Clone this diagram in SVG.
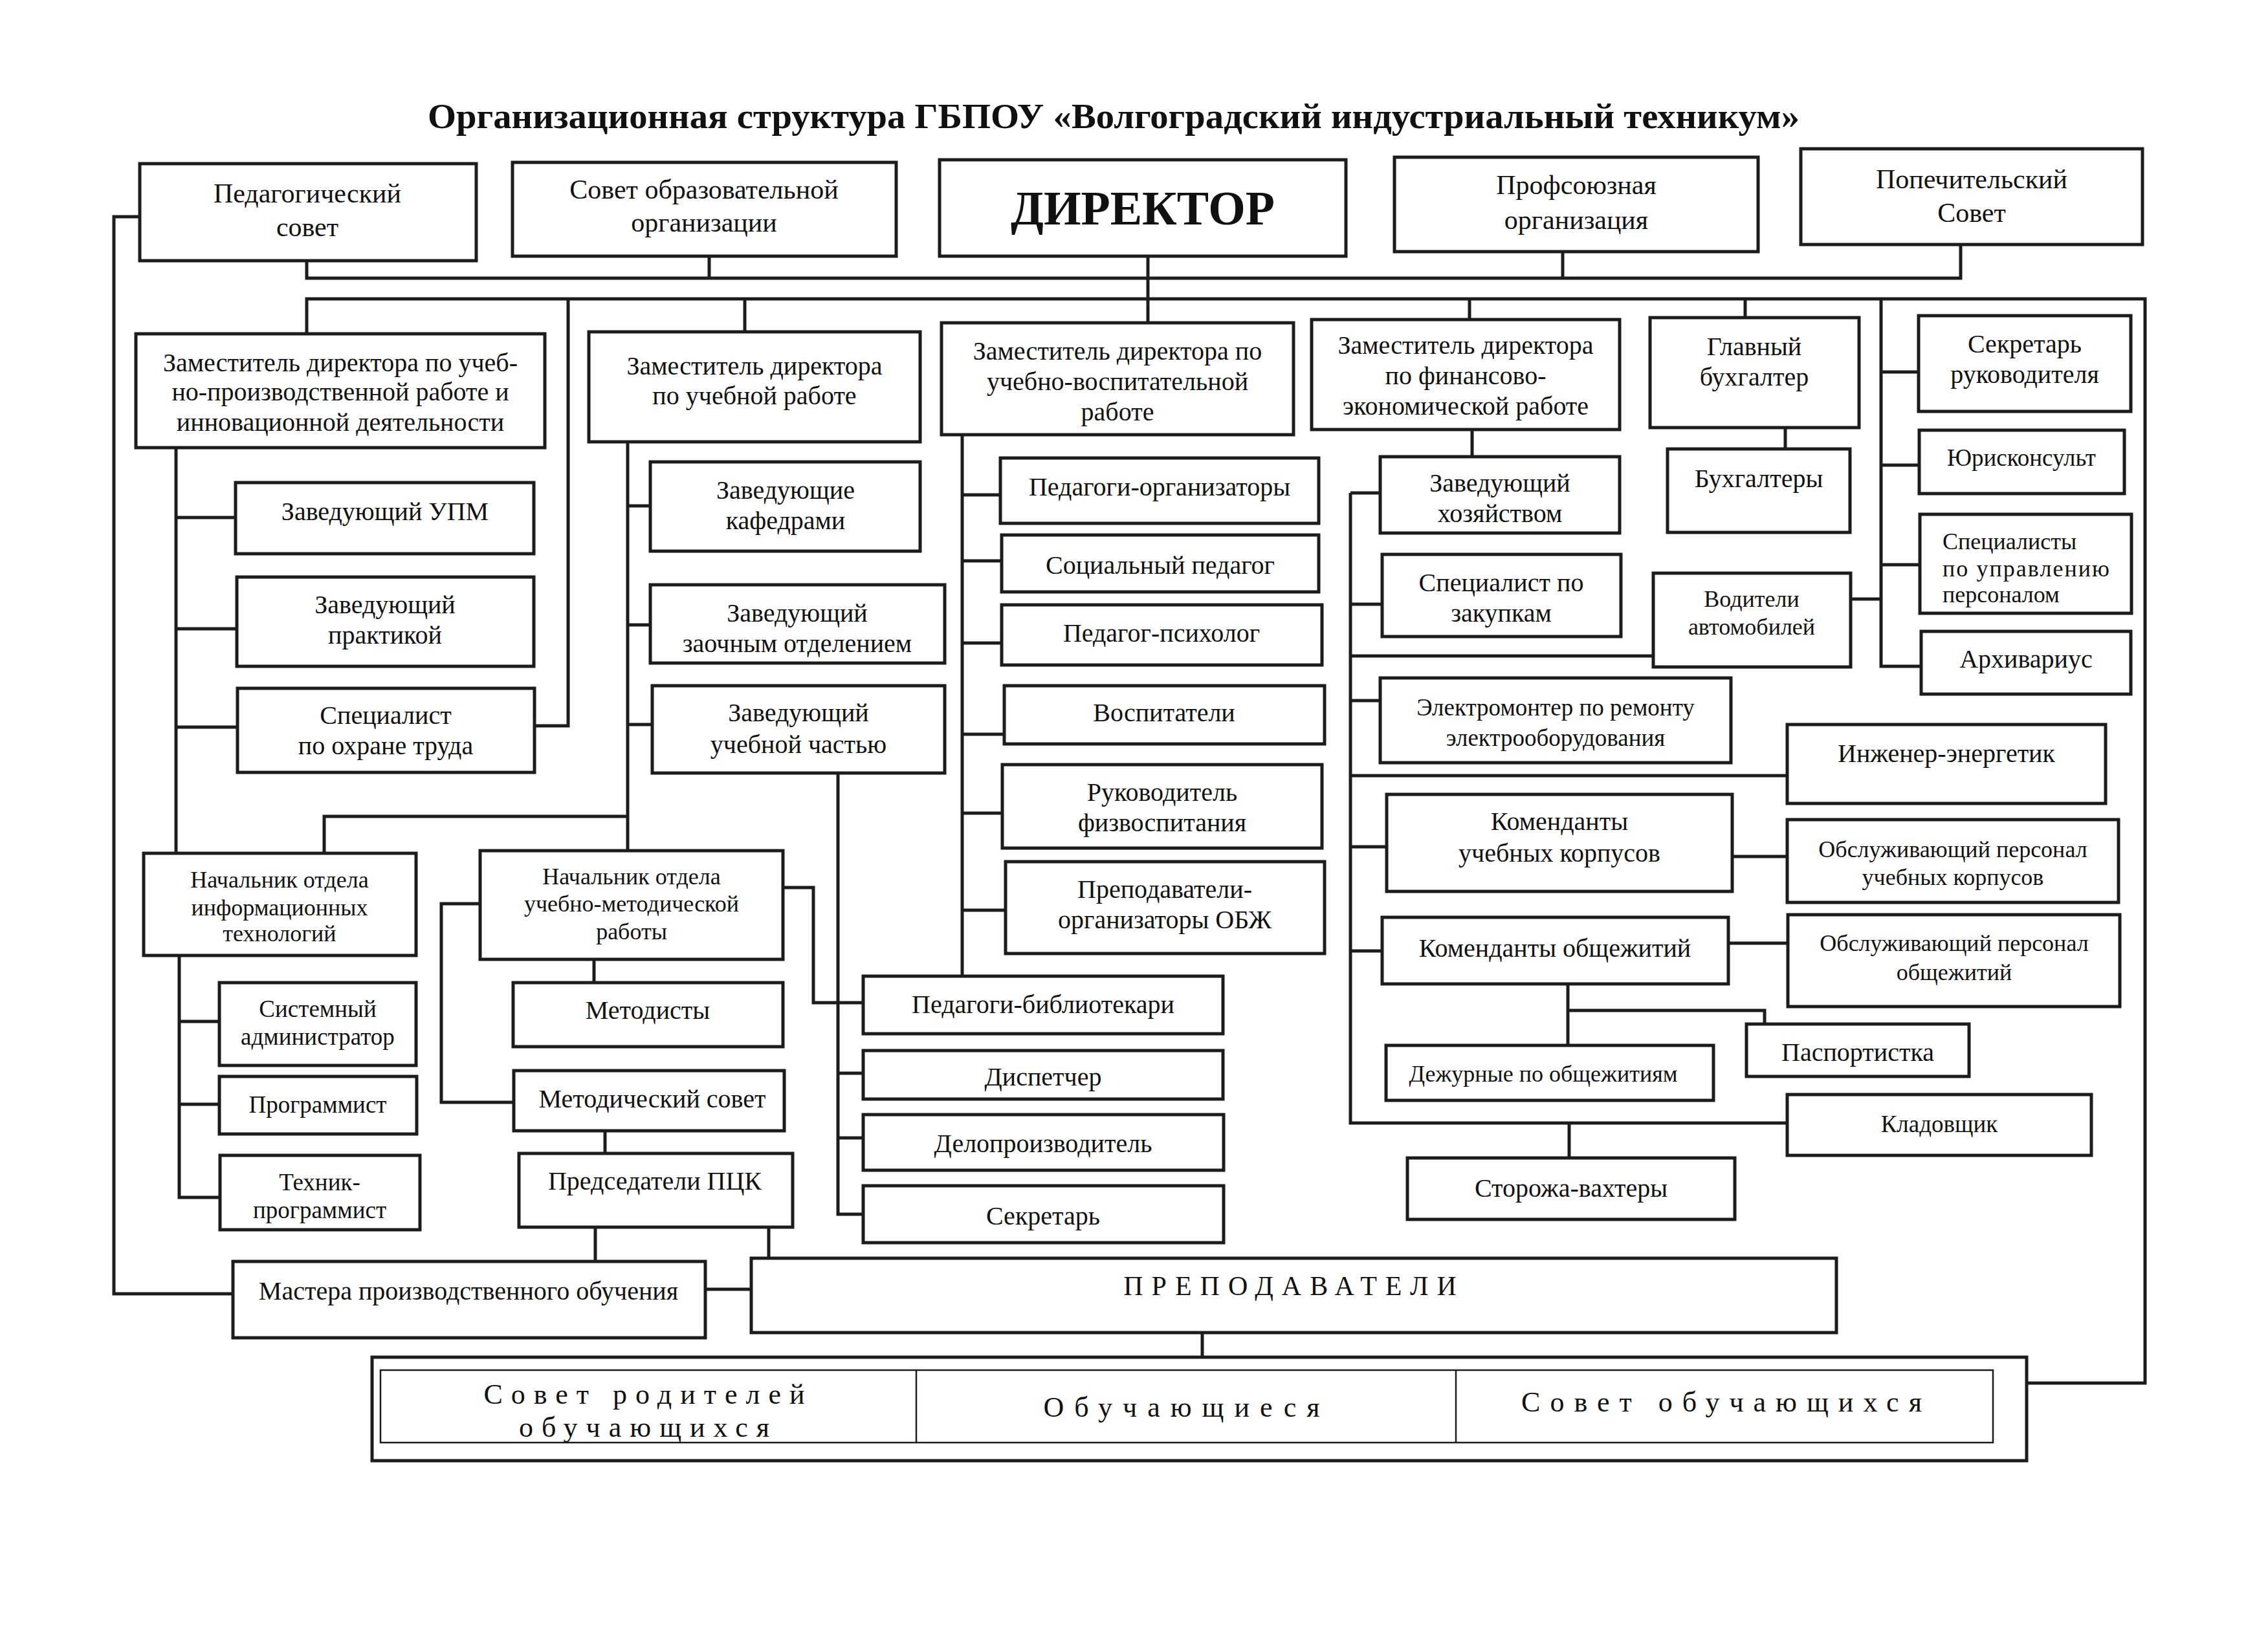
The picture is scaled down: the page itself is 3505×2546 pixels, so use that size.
<svg xmlns="http://www.w3.org/2000/svg" width="3505" height="2546" viewBox="0 0 3505 2546">
<style>
.b{fill:#fff;stroke:#1c1c1c;stroke-width:5}
.c{fill:none;stroke:#1c1c1c;stroke-width:5}
.thin{fill:none;stroke:#1c1c1c;stroke-width:2.5}
text{font-family:"Liberation Serif","Times New Roman",serif;fill:#111;text-anchor:middle;font-size:40px}
.s{font-size:37px}
.xs{font-size:36px}
.l{font-size:42px}
.sp{font-size:44px}
</style>
<rect width="3505" height="2546" fill="#fff"/>
<text x="1721" y="198" style="font-size:55px;font-weight:bold" textLength="2120" lengthAdjust="spacingAndGlyphs">Организационная структура ГБПОУ «Волгоградский индустриальный техникум»</text>

<g id="connectors">
<path class="c" d="M216,335 H176 V2000 H360"/>
<path class="c" d="M474,403 V430 H3030 V378"/>
<path class="c" d="M1096,396 V430"/>
<path class="c" d="M2415,389 V430"/>
<path class="c" d="M1774,396 V499"/>
<path class="c" d="M474,516 V462 H3315 V2138 H3132"/>
<path class="c" d="M878,462 V1122 H826"/>
<path class="c" d="M1151,462 V513"/>
<path class="c" d="M2271,462 V494"/>
<path class="c" d="M2697,462 V491"/>
<path class="c" d="M2907,462 V1030 H2969 M2907,575 H2965 M2907,719 H2966 M2907,873 H2967 M2860,926 H2907"/>
<path class="c" d="M2759,661 V694"/>
<path class="c" d="M272,692 V1319 M272,800 H364 M272,972 H366 M272,1124 H367"/>
<path class="c" d="M970,683 V1315 M970,782 H1005 M970,966 H1005 M970,1120 H1008 M970,1262 H501 V1319"/>
<path class="c" d="M277,1477 V1851 H340 M277,1579 H339 M277,1707 H339"/>
<path class="c" d="M918,1483 V1519"/>
<path class="c" d="M742,1397 H682 V1704 H794"/>
<path class="c" d="M935,1748 V1783"/>
<path class="c" d="M1210,1372 H1257 V1550 H1334"/>
<path class="c" d="M920,1897 V1950 M1188,1897 V1945"/>
<path class="c" d="M1090,1993 H1161"/>
<path class="c" d="M1858,2060 V2098"/>
<path class="c" d="M1295,1195 V1877 H1334 M1295,1659 H1334 M1295,1759 H1334"/>
<path class="c" d="M1487,672 V1509 M1487,765 H1546 M1487,867 H1548 M1487,994 H1548 M1487,1135 H1552 M1487,1257 H1549 M1487,1407 H1554"/>
<path class="c" d="M2275,664 V706"/>
<path class="c" d="M2087,762 V1736 H2762 M2087,762 H2133 M2087,934 H2136 M2087,1014 H2555 M2087,1083 H2133 M2087,1199 H2762 M2087,1309 H2143 M2087,1470 H2136"/>
<path class="c" d="M2677,1324 H2762"/>
<path class="c" d="M2671,1458 H2763"/>
<path class="c" d="M2423,1521 V1616 M2423,1562 H2727 V1583"/>
<path class="c" d="M2425,1736 V1790"/>
</g>

<g id="ped_sovet"><rect class="b" x="216" y="253" width="520" height="150"/><text class="l" x="475" y="313">Педагогический</text><text class="l" x="475" y="365">совет</text></g>
<g id="sovet_org"><rect class="b" x="792" y="251" width="593" height="145"/><text class="l" x="1088" y="307">Совет образовательной</text><text class="l" x="1088" y="358">организации</text></g>
<g id="director"><rect class="b" x="1452" y="247" width="628" height="149"/><text x="1766" y="347" style="font-size:74px;font-weight:bold">ДИРЕКТОР</text></g>
<g id="profsoyuz"><rect class="b" x="2155" y="243" width="562" height="146"/><text class="l" x="2436" y="300">Профсоюзная</text><text class="l" x="2436" y="354">организация</text></g>
<g id="popech"><rect class="b" x="2783" y="230" width="528" height="148"/><text class="l" x="3047" y="291">Попечительский</text><text class="l" x="3047" y="343">Совет</text></g>

<g id="zam_upr"><rect class="b" x="210" y="516" width="632" height="176"/><text x="526" y="574">Заместитель директора по учеб-</text><text x="526" y="619">но-производственной работе и</text><text x="526" y="666">инновационной деятельности</text></g>
<g id="zam_ur"><rect class="b" x="910" y="513" width="512" height="170"/><text x="1166" y="579">Заместитель директора</text><text x="1166" y="625">по учебной работе</text></g>
<g id="zam_uvr"><rect class="b" x="1455" y="499" width="544" height="173"/><text x="1727" y="556">Заместитель директора по</text><text x="1727" y="603">учебно-воспитательной</text><text x="1727" y="650">работе</text></g>
<g id="zam_fin"><rect class="b" x="2027" y="494" width="476" height="170"/><text x="2265" y="547">Заместитель директора</text><text x="2265" y="594">по финансово-</text><text x="2265" y="641">экономической работе</text></g>
<g id="gl_buh"><rect class="b" x="2550" y="491" width="323" height="170"/><text x="2711" y="549">Главный</text><text x="2711" y="596">бухгалтер</text></g>
<g id="secr_ruk"><rect class="b" x="2965" y="488" width="328" height="148"/><text x="3129" y="545">Секретарь</text><text x="3129" y="592">руководителя</text></g>
<g id="yuriskonsult"><rect class="b" x="2966" y="665" width="317" height="98"/><text class="s" x="3124" y="720">Юрисконсульт</text></g>
<g id="spec_personal"><rect class="b" x="2967" y="795" width="327" height="153"/><text class="xs" x="3002" y="849" style="text-anchor:start">Специалисты</text><text class="xs" x="3002" y="891" style="text-anchor:start" textLength="258">по управлению</text><text class="xs" x="3002" y="931" style="text-anchor:start">персоналом</text></g>
<g id="arkhivarius"><rect class="b" x="2969" y="976" width="324" height="97"/><text x="3131" y="1032">Архивариус</text></g>
<g id="bukhgaltery"><rect class="b" x="2577" y="694" width="282" height="129"/><text x="2718" y="753">Бухгалтеры</text></g>
<g id="voditeli"><rect class="b" x="2555" y="886" width="305" height="145"/><text class="xs" x="2707" y="938">Водители</text><text class="xs" x="2707" y="981">автомобилей</text></g>

<g id="zav_khoz"><rect class="b" x="2133" y="706" width="370" height="118"/><text x="2318" y="760">Заведующий</text><text x="2318" y="807">хозяйством</text></g>
<g id="spec_zakupki"><rect class="b" x="2136" y="857" width="369" height="127"/><text x="2320" y="914">Специалист по</text><text x="2320" y="961">закупкам</text></g>
<g id="elektromonter"><rect class="b" x="2133" y="1048" width="542" height="131"/><text class="s" x="2404" y="1106">Электромонтер по ремонту</text><text class="s" x="2404" y="1153">электрооборудования</text></g>
<g id="inzhener"><rect class="b" x="2762" y="1120" width="492" height="122"/><text x="3008" y="1178">Инженер-энергетик</text></g>
<g id="komend_uch"><rect class="b" x="2143" y="1228" width="534" height="150"/><text x="2410" y="1283">Коменданты</text><text x="2410" y="1332">учебных корпусов</text></g>
<g id="obsl_uch"><rect class="b" x="2762" y="1267" width="512" height="128"/><text class="xs" x="3018" y="1325">Обслуживающий персонал</text><text class="xs" x="3018" y="1368">учебных корпусов</text></g>
<g id="komend_obsh"><rect class="b" x="2136" y="1418" width="535" height="103"/><text x="2403" y="1479">Коменданты общежитий</text></g>
<g id="obsl_obsh"><rect class="b" x="2763" y="1414" width="513" height="142"/><text class="xs" x="3020" y="1470">Обслуживающий персонал</text><text class="xs" x="3020" y="1515">общежитий</text></g>
<g id="pasportistka"><rect class="b" x="2699" y="1583" width="344" height="81"/><text x="2871" y="1640">Паспортистка</text></g>
<g id="dezhurnye"><rect class="b" x="2142" y="1616" width="506" height="85"/><text class="xs" x="2385" y="1672">Дежурные по общежитиям</text></g>
<g id="kladovshik"><rect class="b" x="2762" y="1692" width="470" height="94"/><text class="s" x="2997" y="1750">Кладовщик</text></g>
<g id="storozha"><rect class="b" x="2175" y="1790" width="506" height="95"/><text x="2428" y="1850">Сторожа-вахтеры</text></g>

<g id="ped_org"><rect class="b" x="1546" y="708" width="492" height="101"/><text x="1792" y="766">Педагоги-организаторы</text></g>
<g id="soc_ped"><rect class="b" x="1548" y="827" width="490" height="88"/><text x="1793" y="887">Социальный педагог</text></g>
<g id="ped_psikh"><rect class="b" x="1548" y="935" width="495" height="93"/><text x="1795" y="992">Педагог-психолог</text></g>
<g id="vospitateli"><rect class="b" x="1552" y="1060" width="495" height="90"/><text x="1799" y="1115">Воспитатели</text></g>
<g id="ruk_fiz"><rect class="b" x="1549" y="1182" width="494" height="129"/><text x="1796" y="1238">Руководитель</text><text x="1796" y="1285">физвоспитания</text></g>
<g id="obzh"><rect class="b" x="1554" y="1332" width="493" height="142"/><text x="1800" y="1388">Преподаватели-</text><text x="1800" y="1435">организаторы ОБЖ</text></g>
<g id="ped_bibl"><rect class="b" x="1334" y="1509" width="556" height="89"/><text x="1612" y="1566">Педагоги-библиотекари</text></g>
<g id="dispetcher"><rect class="b" x="1334" y="1624" width="556" height="75"/><text x="1612" y="1678">Диспетчер</text></g>
<g id="deloproizv"><rect class="b" x="1334" y="1723" width="557" height="86"/><text x="1612" y="1781">Делопроизводитель</text></g>
<g id="sekretar"><rect class="b" x="1334" y="1833" width="557" height="88"/><text x="1612" y="1893">Секретарь</text></g>

<g id="zav_kafedr"><rect class="b" x="1005" y="714" width="417" height="138"/><text x="1214" y="771">Заведующие</text><text x="1214" y="818">кафедрами</text></g>
<g id="zav_zaoch"><rect class="b" x="1005" y="904" width="455" height="121"/><text x="1232" y="961">Заведующий</text><text x="1232" y="1008">заочным отделением</text></g>
<g id="zav_uch_chast"><rect class="b" x="1008" y="1060" width="452" height="135"/><text x="1234" y="1115">Заведующий</text><text x="1234" y="1164">учебной частью</text></g>

<g id="zav_upm"><rect class="b" x="364" y="746" width="461" height="110"/><text x="595" y="804">Заведующий УПМ</text></g>
<g id="zav_praktika"><rect class="b" x="366" y="892" width="459" height="138"/><text x="595" y="948">Заведующий</text><text x="595" y="995">практикой</text></g>
<g id="spec_okhrana"><rect class="b" x="367" y="1064" width="459" height="130"/><text x="596" y="1119">Специалист</text><text x="596" y="1166">по охране труда</text></g>

<g id="nach_it"><rect class="b" x="222" y="1319" width="421" height="158"/><text class="xs" x="432" y="1372">Начальник отдела</text><text class="xs" x="432" y="1415">информационных</text><text class="xs" x="432" y="1455">технологий</text></g>
<g id="nach_umr"><rect class="b" x="742" y="1315" width="468" height="168"/><text class="xs" x="976" y="1367">Начальник отдела</text><text class="xs" x="976" y="1409">учебно-методической</text><text class="xs" x="976" y="1452">работы</text></g>
<g id="sys_admin"><rect class="b" x="339" y="1519" width="304" height="128"/><text class="s" x="491" y="1572">Системный</text><text class="s" x="491" y="1615">администратор</text></g>
<g id="programmist"><rect class="b" x="339" y="1664" width="305" height="89"/><text class="s" x="491" y="1720">Программист</text></g>
<g id="tekhnik"><rect class="b" x="340" y="1786" width="309" height="115"/><text class="s" x="494" y="1840">Техник-</text><text class="s" x="494" y="1883">программист</text></g>
<g id="metodisty"><rect class="b" x="793" y="1519" width="417" height="99"/><text x="1001" y="1575">Методисты</text></g>
<g id="met_sovet"><rect class="b" x="794" y="1655" width="418" height="93"/><text x="1008" y="1712">Методический совет</text></g>
<g id="predsedateli"><rect class="b" x="802" y="1783" width="423" height="114"/><text x="1012" y="1839">Председатели ПЦК</text></g>
<g id="mastera"><rect class="b" x="360" y="1950" width="730" height="118"/><text x="724" y="2009">Мастера производственного обучения</text></g>
<g id="prepodavateli"><rect class="b" x="1161" y="1945" width="1677" height="115"/><text class="l" x="2000" y="2002" letter-spacing="13">ПРЕПОДАВАТЕЛИ</text></g>

<g id="obuchayushchiesya">
<rect class="b" x="575" y="2098" width="2557" height="160"/>
<rect class="thin" x="588" y="2118" width="2492" height="112"/>
<line class="thin" x1="1416" y1="2118" x2="1416" y2="2230"/>
<line class="thin" x1="2250" y1="2118" x2="2250" y2="2230"/>
<text class="sp" x="1002" y="2170" letter-spacing="13">Совет родителей</text>
<text class="sp" x="1002" y="2221" letter-spacing="13">обучающихся</text>
<text class="sp" x="1834" y="2190" letter-spacing="16">Обучающиеся</text>
<text class="sp" x="2668" y="2182" letter-spacing="15">Совет обучающихся</text>
</g>
</svg>
